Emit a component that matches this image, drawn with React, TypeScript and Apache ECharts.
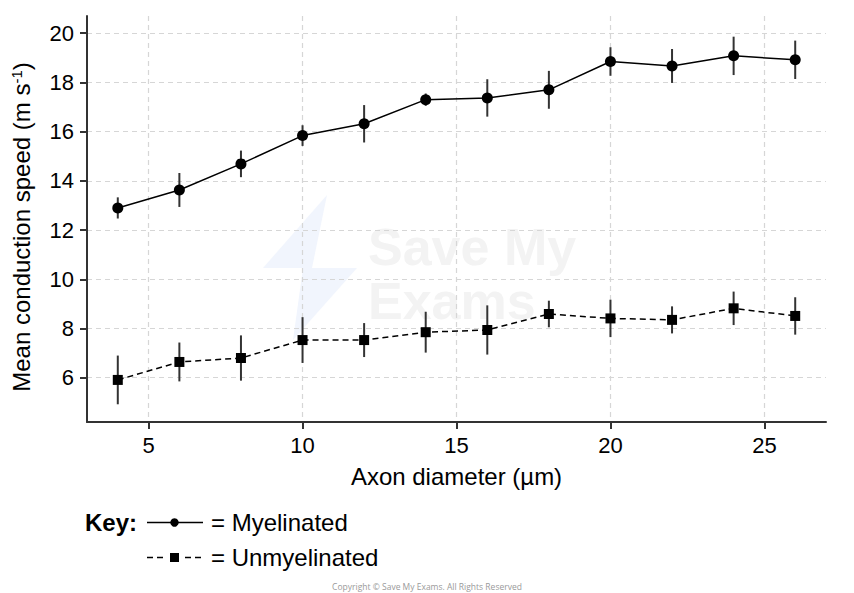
import { useEffect, useRef } from 'react';
import * as echarts from 'echarts';

// axon diameter (µm)
const diameters = [4, 6, 8, 10, 12, 14, 16, 18, 20, 22, 24, 26];
// mean conduction speed (m s-1) and error bar half-lengths
const myelinatedMean = [12.9, 13.63, 14.69, 15.84, 16.32, 17.3, 17.37, 17.7, 18.85, 18.67, 19.08, 18.92];
const myelinatedErr = [0.43, 0.69, 0.54, 0.42, 0.76, 0.25, 0.76, 0.77, 0.58, 0.69, 0.78, 0.78];
const unmyelinatedMean = [5.91, 6.64, 6.8, 7.53, 7.53, 7.85, 7.94, 8.59, 8.41, 8.35, 8.82, 8.51];
const unmyelinatedErr = [0.99, 0.79, 0.92, 0.93, 0.69, 0.83, 1.0, 0.54, 0.76, 0.55, 0.68, 0.76];

const xTicks = [5, 10, 15, 20, 25];
const yTicks = [6, 8, 10, 12, 14, 16, 18, 20];

const FONT = '"Liberation Sans", Arial, Helvetica, sans-serif';
const AXIS_COLOR = '#333';
const GRID_COLOR = '#d6d6d6';

function errorBarSeries(means: number[], errs: number[]) {
  return {
    type: 'custom',
    z: 1,
    data: diameters.map((d, i) => [d, means[i] - errs[i], means[i] + errs[i]]),
    encode: { x: 0, y: [1, 2] },
    renderItem: (_params: any, api: any) => {
      const lo = api.coord([api.value(0), api.value(1)]);
      const hi = api.coord([api.value(0), api.value(2)]);
      return {
        type: 'line',
        shape: { x1: lo[0], y1: lo[1], x2: hi[0], y2: hi[1] },
        style: { stroke: AXIS_COLOR, lineWidth: 2 },
      };
    },
  };
}

export default function App() {
  const chartRef = useRef<HTMLDivElement>(null);

  useEffect(() => {
    if (!chartRef.current) return;
    const chart = echarts.init(chartRef.current, null, { renderer: 'svg' });

    const axisCommon = {
      type: 'value',
      nameLocation: 'middle',
      nameTextStyle: { fontSize: 24, color: '#000', fontFamily: FONT },
      axisLine: { show: true, onZero: false, lineStyle: { color: AXIS_COLOR, width: 2 } },
      axisTick: { show: true, length: 7, lineStyle: { color: AXIS_COLOR, width: 2 } },
      splitLine: { show: true, lineStyle: { color: GRID_COLOR, width: 1.2, type: [5, 4] } },
    };

    chart.setOption({
      animation: false,
      backgroundColor: '#fff',
      grid: { left: 87, right: 28, top: 16, bottom: 171 },
      xAxis: {
        ...axisCommon,
        min: 3,
        max: 27,
        name: 'Axon diameter (µm)',
        nameGap: 42,
        axisTick: { ...axisCommon.axisTick, customValues: xTicks },
        axisLabel: { customValues: xTicks, fontSize: 22, color: '#000', margin: 12, fontFamily: FONT },
      },
      yAxis: {
        ...axisCommon,
        min: 4.2,
        max: 20.7,
        name: 'Mean conduction speed (m s{sup|-1})',
        nameGap: 54,
        nameTextStyle: {
          fontSize: 24,
          color: '#000',
          fontFamily: FONT,
          padding: [0, 16, 0, 0],
          rich: { sup: { fontSize: 15, color: '#000', fontFamily: FONT, verticalAlign: 'top' } },
        },
        axisTick: { ...axisCommon.axisTick, customValues: yTicks },
        axisLabel: { customValues: yTicks, fontSize: 22, color: '#000', margin: 13, fontFamily: FONT },
      },
      series: [
        errorBarSeries(myelinatedMean, myelinatedErr),
        errorBarSeries(unmyelinatedMean, unmyelinatedErr),
        {
          name: 'Myelinated',
          type: 'line',
          z: 3,
          data: diameters.map((d, i) => [d, myelinatedMean[i]]),
          symbol: 'circle',
          symbolSize: 11,
          itemStyle: { color: '#000' },
          lineStyle: { color: '#000', width: 1.5 },
        },
        {
          name: 'Unmyelinated',
          type: 'line',
          z: 3,
          data: diameters.map((d, i) => [d, unmyelinatedMean[i]]),
          symbol: 'rect',
          symbolSize: 10,
          itemStyle: { color: '#000' },
          lineStyle: { color: '#000', width: 1.5, type: [6, 4] },
        },
      ],
      graphic: [
        // faint watermark
        { type: 'polygon', z: -100, shape: { points: [[327, 195], [263, 268], [312, 268]] }, style: { fill: '#f1f5fd' } },
        { type: 'polygon', z: -100, shape: { points: [[357, 268], [303, 268], [293, 340]] }, style: { fill: '#f1f5fd' } },
        {
          type: 'text', z: -100, x: 368, y: 220,
          style: {
            text: 'Save My\nExams', fontSize: 52, lineHeight: 54, fontWeight: 'bold',
            fontFamily: FONT, fill: '#f3f3f3', verticalAlign: 'top',
          },
        },
        // key
        {
          type: 'text', x: 85, y: 522,
          style: { text: 'Key:', fontSize: 24, fontWeight: 'bold', fontFamily: FONT, fill: '#000', verticalAlign: 'middle' },
        },
        { type: 'line', shape: { x1: 147, y1: 522.5, x2: 203, y2: 522.5 }, style: { stroke: '#000', lineWidth: 1.5 } },
        { type: 'circle', shape: { cx: 174.5, cy: 522.5, r: 4.2 }, style: { fill: '#000' } },
        {
          type: 'text', x: 211, y: 522,
          style: { text: '= Myelinated', fontSize: 24, fontFamily: FONT, fill: '#000', verticalAlign: 'middle' },
        },
        { type: 'line', shape: { x1: 147, y1: 557.5, x2: 163, y2: 557.5 }, style: { stroke: '#000', lineWidth: 1.5, lineDash: [6, 4] } },
        { type: 'rect', shape: { x: 170, y: 553, width: 9, height: 9 }, style: { fill: '#000' } },
        { type: 'line', shape: { x1: 185, y1: 557.5, x2: 201, y2: 557.5 }, style: { stroke: '#000', lineWidth: 1.5, lineDash: [6, 4] } },
        {
          type: 'text', x: 211, y: 557,
          style: { text: '= Unmyelinated', fontSize: 24, fontFamily: FONT, fill: '#000', verticalAlign: 'middle' },
        },
        {
          type: 'text', x: 427, y: 586,
          style: {
            text: 'Copyright © Save My Exams. All Rights Reserved',
            fontSize: 8.5, fontFamily: '"Open Sans", sans-serif', fill: '#9a9a9a', align: 'center', verticalAlign: 'middle',
          },
        },
      ],
    });

    return () => {
      chart.dispose();
    };
  }, []);

  return (
    <div
      ref={chartRef}
      style={{ position: 'fixed', left: 0, top: 0, width: 854, height: 593, background: '#fff' }}
    />
  );
}
